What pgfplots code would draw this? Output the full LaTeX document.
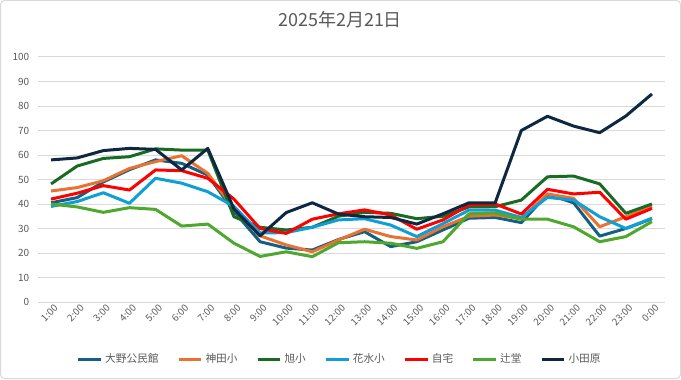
\documentclass[border=0pt]{standalone}
\usepackage{pgfplots}
\pgfplotsset{compat=1.18}
\usepackage{fontspec}
\setmainfont{Noto Sans CJK JP}
\definecolor{cOno}{HTML}{156082}
\definecolor{cKanda}{HTML}{E97132}
\definecolor{cAsahi}{HTML}{196B24}
\definecolor{cHanamizu}{HTML}{0F9ED5}
\definecolor{cHome}{HTML}{FF0000}
\definecolor{cTsuji}{HTML}{4EA72E}
\definecolor{cOdawara}{HTML}{0E2841}
\definecolor{txtgray}{HTML}{595959}
\definecolor{gridgray}{HTML}{D9D9D9}
\begin{document}
\begin{tikzpicture}
\draw[color=gridgray, line width=0.75pt, rounded corners=3pt] (0.375pt,0.375pt) rectangle (510.375pt,283.875pt);
\begin{axis}[
  at={(28.5pt,57.75pt)}, anchor=south west,
  scale only axis, width=470.25pt, height=183.75pt,
  xmin=-0.5, xmax=23.5, ymin=0, ymax=100,
  ytick={0,10,...,100},
  xtick={0,...,23},
  xticklabels={1:00,2:00,3:00,4:00,5:00,6:00,7:00,8:00,9:00,10:00,11:00,12:00,13:00,14:00,15:00,16:00,17:00,18:00,19:00,20:00,21:00,22:00,23:00,0:00},
  xticklabel style={rotate=45, anchor=east, font=\fontsize{7.3}{8}\selectfont, color=txtgray, yshift=-5pt, xshift=1.5pt, inner sep=1pt},
  yticklabel style={font=\fontsize{7.5}{9}\selectfont, color=txtgray, xshift=-3pt},
  /pgf/number format/assume math mode=true,
  ymajorgrids, grid style={color=gridgray, line width=0.75pt},
  axis line style={draw=none}, major tick length=0pt,
  clip=false,
  title={2025年2月21日},
  title style={at={(0.4817,1.118)}, anchor=center, font=\fontsize{13.5}{16}\selectfont, color=txtgray},
  legend columns=7,
  legend style={at={(0.4817,-0.2327)}, anchor=center, draw=none, fill=none,
    font=\fontsize{8}{10}\selectfont, text=txtgray,
    /tikz/every even column/.append style={column sep=12pt}},
  legend image code/.code={\draw[#1, line width=2.25pt] (0pt,0pt) -- (17pt,0pt);},
  every axis plot/.append style={line width=2.25pt, line join=round, mark=none},
]
\addplot[color=cOno] coordinates {(0,40.5)(1,42.6)(2,49)(3,54)(4,58)(5,56.6)(6,51.8)(7,37)(8,24.6)(9,22)(10,21.2)(11,25.5)(12,28.7)(13,22.6)(14,24.6)(15,29.4)(16,34.2)(17,34.5)(18,32.4)(19,44)(20,40.5)(21,26.9)(22,30)(23,34)};
\addlegendentry{大野公民館}
\addplot[color=cKanda] coordinates {(0,45.3)(1,46.7)(2,49.5)(3,54.5)(4,57.3)(5,59.7)(6,52.5)(7,38)(8,27)(9,23.3)(10,20.5)(11,25.3)(12,29.7)(13,26.7)(14,25.3)(15,30.7)(16,35)(17,35.5)(18,34)(19,44.1)(20,42.3)(21,30.7)(22,34.8)(23,39)};
\addlegendentry{神田小}
\addplot[color=cAsahi] coordinates {(0,48.2)(1,55.5)(2,58.6)(3,59.3)(4,62.5)(5,62)(6,62)(7,34.8)(8,30.5)(9,29.4)(10,30.5)(11,35)(12,36.6)(13,36.2)(14,34)(15,35)(16,38.8)(17,38.9)(18,41.6)(19,51.1)(20,51.4)(21,48.2)(22,36.2)(23,40)};
\addlegendentry{旭小}
\addplot[color=cHanamizu] coordinates {(0,39)(1,41)(2,44.6)(3,40.3)(4,50.5)(5,48.5)(6,45)(7,39)(8,28.2)(9,28.3)(10,30.5)(11,33.5)(12,34)(13,31.4)(14,26.7)(15,32)(16,37.5)(17,37.5)(18,34.5)(19,42.7)(20,41.6)(21,34.8)(22,30)(23,34.2)};
\addlegendentry{花水小}
\addplot[color=cHome] coordinates {(0,42)(1,44.4)(2,47.5)(3,45.7)(4,53.9)(5,53.6)(6,50.5)(7,42)(8,30)(9,28)(10,33.8)(11,36)(12,37.6)(13,35.5)(14,29.7)(15,33.5)(16,39.6)(17,40)(18,35.9)(19,46)(20,44.1)(21,44.8)(22,33.8)(23,38.2)};
\addlegendentry{自宅}
\addplot[color=cTsuji] coordinates {(0,40)(1,38.8)(2,36.6)(3,38.5)(4,37.8)(5,31)(6,31.8)(7,24)(8,18.6)(9,20.5)(10,18.5)(11,24.2)(12,24.6)(13,24)(14,21.9)(15,24.6)(16,36)(17,36.4)(18,33.8)(19,33.8)(20,30.7)(21,24.6)(22,26.7)(23,32.8)};
\addlegendentry{辻堂}
\addplot[color=cOdawara] coordinates {(0,58)(1,58.8)(2,61.8)(3,62.7)(4,62.3)(5,53.9)(6,62.7)(7,38)(8,27)(9,36.5)(10,40.5)(11,35.9)(12,34.8)(13,34.5)(14,31.8)(15,36)(16,40.5)(17,40.5)(18,70)(19,75.8)(20,71.8)(21,69.1)(22,75.9)(23,84.9)};
\addlegendentry{小田原}
\end{axis}
\end{tikzpicture}
\end{document}
